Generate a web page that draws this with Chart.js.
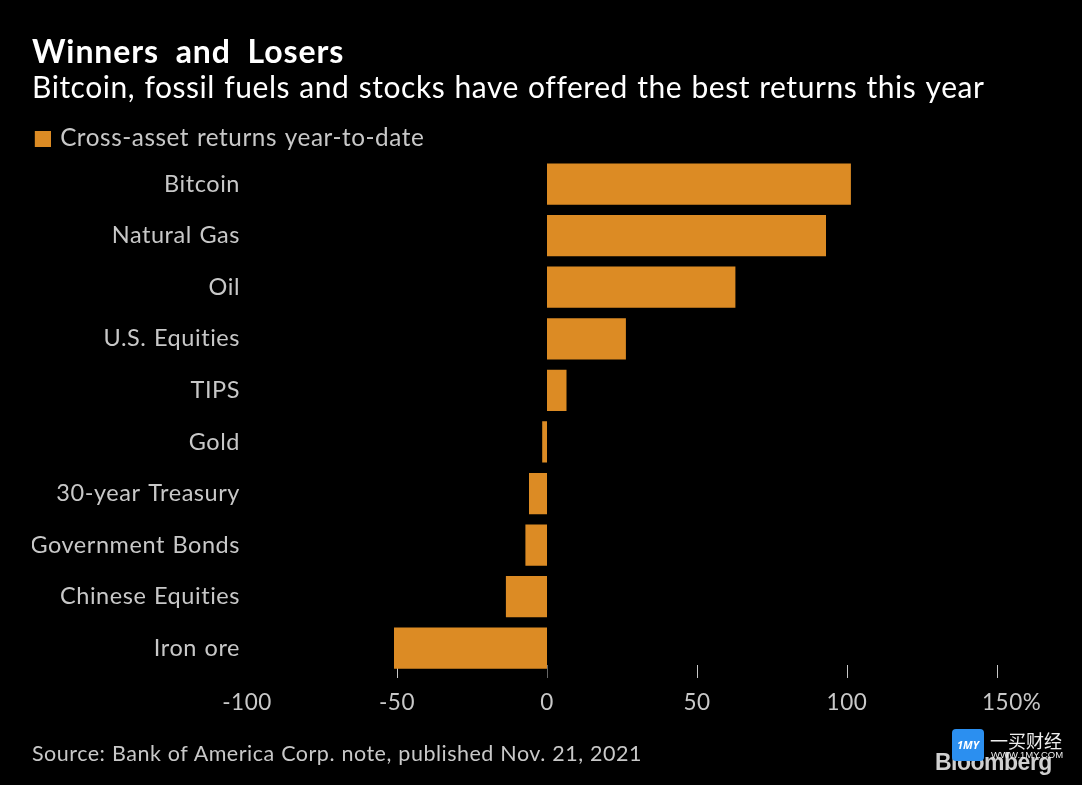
<!DOCTYPE html>
<html><head><meta charset="utf-8">
<style>
html,body{margin:0;padding:0;background:#000;width:1082px;height:785px;overflow:hidden}
#w{position:relative;width:1082px;height:785px}
canvas{position:absolute;left:0;top:0}
.t{position:absolute;white-space:nowrap;font-family:Lato,sans-serif}
</style></head><body><div id="w"><canvas id="c" width="1082" height="785"></canvas>
<div class="t" style="left:32px;top:740px;font-size:21.5px;letter-spacing:.5px;word-spacing:.5px;color:#c8c8c8" id="src"></div>
<div class="t" style="left:935px;top:749px;font-size:23px;font-weight:900;letter-spacing:-.5px;color:#d0d0d0;font-family:'Liberation Sans'">Bloomberg</div>
<div style="position:absolute;left:952px;top:729px;width:32px;height:32px;border-radius:4px;background:#2b8ff0;color:#fff;font:italic 700 11px 'Noto Sans';text-align:center;line-height:32px">1MY</div>
<div class="t" style="left:990px;top:727px;font-size:18px;color:#eee;font-family:'Noto Sans CJK SC'">一买财经</div>
<div class="t" style="left:991px;top:749px;font-size:9.5px;color:#eee;font-family:'Liberation Sans'">WWW.1MY.COM</div>
</div>
<script src="https://cdn.jsdelivr.net/npm/chart.js@4"></script>
<script>
const titleText = "Winners and Losers";
const subtitleText = "Bitcoin, fossil fuels and stocks have offered the best returns this year";
const seriesName = "Cross-asset returns year-to-date";
const sourceText = "Source: Bank of America Corp. note, published Nov. 21, 2021";
const categories = ["Bitcoin","Natural Gas","Oil","U.S. Equities","TIPS","Gold","30-year Treasury","Government Bonds","Chinese Equities","Iron ore"];
const returnsValues = [101.3,93,62.8,26.3,6.5,-1.6,-6,-7.2,-13.7,-51];
const tickValues = [-100,-50,0,50,100,150];
const barColor = '#dc8b24';
document.getElementById('src').textContent = sourceText;
const FONT = 'Lato, sans-serif';
const marker = document.createElement('canvas');
marker.width = 21; marker.height = 16;
const mc = marker.getContext('2d'); mc.fillStyle = barColor; mc.fillRect(5,0,16,16);
const spacing = {
  id:'spacing',
  beforeLayout(chart){
    chart.ctx.letterSpacing='0.55px'; chart.ctx.wordSpacing='1px';
    const lg = chart.legend;
    if (lg && !lg._wrapped){
      const fit = lg.fit.bind(lg);
      lg.fit = function(){ fit(); lg.height -= 2.4; };
      lg._wrapped = true;
    }
  },
  afterLayout(chart){
    const tb = chart.titleBlock;
    if (tb && !tb._wrapped){
      const orig = tb.draw.bind(tb);
      tb.draw = function(){
        const c = chart.ctx; c.save();
        c.letterSpacing='0.9px'; c.wordSpacing='8px';
        orig(); c.restore();
      };
      tb._wrapped = true;
    }
  },
  beforeDraw(chart){ chart.ctx.letterSpacing='0.55px'; chart.ctx.wordSpacing='1px'; }
};
const tickMarks = {
  id:'tickMarks',
  beforeDatasetsDraw(chart){
    const {ctx,scales:{x}} = chart;
    ctx.save(); ctx.lineWidth=1;
    tickValues.filter(v=>v>-100).forEach(v=>{
      const p=Math.round(x.getPixelForValue(v))+.5;
      ctx.strokeStyle = v===0 ? '#666' : '#c8c8c8';
      ctx.beginPath();ctx.moveTo(p,665);ctx.lineTo(p,678);ctx.stroke();
    });
    ctx.restore();
  }
};
new Chart(document.getElementById('c'),{
  type:'bar',
  data:{labels:categories,datasets:[{label:seriesName,data:returnsValues,backgroundColor:barColor,borderWidth:0,barPercentage:.8,categoryPercentage:1}]},
  plugins:[spacing,tickMarks],
  options:{
    indexAxis:'y',responsive:false,animation:false,devicePixelRatio:1,
    layout:{padding:{left:32,right:85,top:33,bottom:62}},
    scales:{
      y:{grid:{display:false},border:{display:false},
         afterFit(s){s.width=215},
         ticks:{color:'#c8c8c8',font:{family:FONT,size:23.5},padding:-1,autoSkip:false}},
      x:{min:-100,max:150,grid:{display:false},border:{display:false},
         afterBuildTicks(s){s.ticks=tickValues.map(v=>({value:v}))},
         ticks:{color:'#c8c8c8',font:{family:FONT,size:22.5},padding:7,maxRotation:0,
           callback:v=>v===150?'\u00a0\u00a0\u00a0\u00a0150%':String(v)}}
    },
    plugins:{
      title:{display:true,text:titleText,align:'start',color:'#fff',font:{family:FONT,size:32,weight:'bold'},padding:{top:0,bottom:-1}},
      subtitle:{display:true,text:subtitleText,align:'start',color:'#fff',font:{family:FONT,size:30},padding:{top:0,bottom:19.4}},
      legend:{display:true,position:'top',align:'start',labels:{color:'#c8c8c8',font:{family:FONT,size:24.3},boxWidth:15.4,boxHeight:16,padding:.6,usePointStyle:true,pointStyle:marker,pointStyleWidth:15.4}},
      tooltip:{enabled:false}
    }
  }
});
</script></body></html>
